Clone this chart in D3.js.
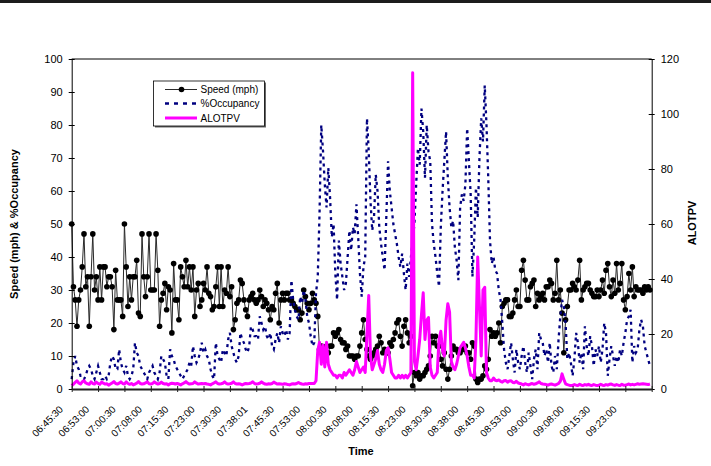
<!DOCTYPE html>
<html><head><meta charset="utf-8">
<script src="https://cdn.jsdelivr.net/npm/d3@7"></script>
<style>
body{margin:0;background:#fff}
svg{display:block}
text{font-family:"Liberation Sans",Arial,Helvetica,sans-serif;fill:#000}
</style>
</head><body>
<svg id="chart" width="711" height="466"></svg>
<script>
// Tick labels (every 15th 30-second sample)
const timeLabels = ["06:45:30","06:53:00","07:00:30","07:08:00","07:15:30","07:23:00","07:30:30","07:38:01","07:45:30","07:53:00","08:00:30","08:08:00","08:15:30","08:23:00","08:30:30","08:38:00","08:45:30","08:53:00","09:00:30","09:08:00","09:15:30","09:23:00"];
const leftTicks = [0,10,20,30,40,50,60,70,80,90,100];
const rightTicks = [0,20,40,60,80,100,120];
const seriesNames = ["Speed (mph)","%Occupancy","ALOTPV"];

// Speed (mph), 15 samples per row (one row per labelled interval)
const speed = [
50,31,27,19,27,30,37,47,31,34,19,34,47,30,34,
27,37,27,37,37,31,34,34,31,18,36,27,27,27,22,
50,37,25,34,27,34,34,39,23,22,47,34,28,34,47,
30,30,30,47,36,19,27,29,32,24,31,30,17,38,27,
27,21,37,34,31,39,31,37,30,37,22,30,32,25,27,
32,30,37,29,28,24,25,31,37,25,37,25,30,29,37,
28,31,18,21,26,27,33,32,27,24,22,27,28,29,27,
26,27,30,28,25,27,26,24,21,25,24,29,32,20,27,
29,27,29,29,27,27,26,25,24,24,21,23,30,28,26,
24,26,29,27,26,22,12,13,12,12,13,11,13,13,17,
16,17,18,15,14,14,12,13,10,10,10,9,10,10,13,
17,21,15,12,10,9,10,11,12,13,16,14,11,12,11,
11,14,13,15,17,20,21,16,13,19,21,17,14,16,1,
5,4,5,3,4,4,5,6,7,10,16,14,16,13,13,
9,7,11,6,3,6,10,13,12,12,11,11,12,12,13,
11,11,9,14,13,3,2,3,3,4,7,6,9,18,16,
17,16,17,20,14,25,26,27,27,22,22,23,27,30,25,
25,36,39,33,27,27,31,32,33,25,29,27,28,29,27,
31,31,33,32,27,29,39,27,30,23,11,21,25,30,30,
32,31,30,33,39,27,30,31,32,32,30,29,28,28,30,
28,30,33,29,36,38,31,28,33,29,38,30,32,38,27,
24,28,35,30,37,28,31,30,30,30,29,31,30,31,30
];

// %Occupancy
const occupancy = [
3,8,10,7,6,4,4,3,4,6,7,6,4,3,5,
7,5,3,3,4,3,4,8,10,9,6,6,12,8,6,
5,7,4,3,4,6,14,11,10,7,6,5,4,3,5,
6,7,5,4,3,5,10,9,8,4,3,12,10,9,7,
6,5,4,3,4,5,6,8,7,13,10,8,9,11,14,
11,12,10,9,6,4,3,14,10,9,8,12,11,10,15,
17,13,11,9,8,10,17,15,14,12,11,13,19,18,16,
16,15,22,20,18,19,16,15,17,13,12,15,17,14,19,
17,16,18,15,17,33,27,24,22,21,28,26,30,27,22,
20,16,13,14,29,34,53,80,72,62,55,67,58,46,50,
35,27,45,38,34,30,32,40,48,42,49,47,56,46,35,
28,37,40,82,72,57,48,52,65,60,49,44,40,36,52,
69,60,55,50,47,44,40,37,41,35,30,38,34,40,45,
50,62,73,68,85,78,64,80,72,69,50,44,40,35,31,
49,60,69,78,64,55,49,51,43,39,33,55,59,57,62,
79,69,59,34,45,61,52,70,82,75,92,80,64,45,38,
40,36,35,30,27,20,12,8,6,10,14,9,5,12,8,
6,10,13,8,5,11,7,3,9,12,6,17,15,14,10,
12,8,14,7,5,10,6,15,22,27,25,20,9,11,8,
4,9,17,14,8,11,6,19,13,10,16,13,7,12,10,
13,8,12,20,17,4,9,13,10,7,10,8,12,10,14,
17,21,22,24,8,13,11,12,18,21,19,13,11,9,7
];

// ALOTPV (right axis)
const alotpv = [
1.2,1.8,2.4,3.0,2.2,1.8,2.6,3.0,2.2,1.9,1.7,2.6,2.0,1.8,2.5,
2.0,1.7,2.5,2.1,1.8,1.9,1.4,1.8,2.2,2.7,2.0,1.8,2.1,2.6,2.0,
1.8,2.6,2.0,1.7,2.0,1.5,1.8,2.1,2.7,2.0,1.8,1.9,2.2,2.6,1.9,
1.8,2.0,2.6,2.1,1.8,2.0,2.5,2.0,1.8,1.9,1.5,1.9,2.1,2.0,1.8,
2.0,1.8,1.5,1.9,2.2,2.7,2.1,1.8,1.9,2.0,2.6,2.1,1.8,1.9,2.0,
1.9,2.0,1.8,1.7,1.5,1.9,2.2,2.6,2.0,1.8,1.9,2.1,2.6,2.0,1.8,
1.9,2.1,2.6,2.0,1.8,1.9,1.8,1.5,1.8,2.0,1.9,2.0,2.2,2.6,2.0,
1.8,1.9,2.1,2.6,2.1,1.8,1.7,1.9,1.8,2.0,2.5,2.1,1.8,1.9,1.8,
1.7,1.9,1.8,1.6,1.5,1.8,1.9,1.8,2.0,2.4,2.0,1.8,1.7,1.9,1.8,
2,2,2,2,3,14,17,9,16,8,17,9,7,6,5,
5,4,5,5,4,6,5,6,7,6,5,7,10,8,6,
7,8,6,20,34,12,7,9,11,14,9,7,6,9,14,
15,11,6,5,4,4,5,4,5,4,5,4,5,6,115,
10,7,12,18,27,35,18,25,26,8,5,4,5,6,18,
21,14,12,25,31,28,10,8,7,9,12,15,16,17,15,
12,8,5,5,4,18,48,30,12,36,37,6,4,3,3,
4.0,3.2,3.0,3.3,2.8,2.5,3.0,3.1,2.5,2.9,3.0,2.4,2.3,2.8,2.2,
2.0,1.8,1.5,1.9,1.7,1.5,1.8,2.0,1.7,1.9,2.2,2.6,2.0,1.8,1.7,
1.6,1.4,1.7,1.8,1.6,1.4,1.7,2.0,2.8,5.5,3.5,1.9,1.6,1.4,1.3,
1.3,1.6,1.4,1.3,1.7,1.4,1.3,1.6,1.4,1.7,1.4,1.3,1.6,1.4,1.3,
1.4,1.7,1.4,1.3,1.6,1.4,1.7,1.8,1.5,1.3,1.6,1.4,1.3,1.7,1.4,
1.4,1.6,1.8,1.5,1.7,1.5,1.7,1.9,1.7,1.8,1.9,1.8,1.7,1.6,1.8
];

const svg = d3.select("#chart");
const L = 71.7, R = 651.7, T = 59, B = 389;
const nCat = timeLabels.length * 15; // 330

const x = d3.scaleLinear().domain([0, nCat]).range([L, R]);
const yL = d3.scaleLinear().domain([0, 100]).range([B, T]);
const yR = d3.scaleLinear().domain([0, 120]).range([B, T]);

svg.append("rect").attr("x",0).attr("y",0).attr("width",711).attr("height",466).attr("fill","#fff");
// dark rule at the top of the page
svg.append("rect").attr("x",0).attr("y",0).attr("width",711).attr("height",3).attr("fill","#1c1c1c");

// series
const g = svg.append("g");
g.append("path").datum(speed)
  .attr("fill","none").attr("stroke","#2a2a2a").attr("stroke-width",1)
  .attr("d", d3.line().x((d,i)=>x(i)).y(d=>yL(d)));
g.selectAll("circle.sp").data(speed).enter().append("circle")
  .attr("class","sp").attr("cx",(d,i)=>x(i)).attr("cy",d=>yL(d)).attr("r",2.8).attr("fill","#000");
g.append("path").datum(occupancy)
  .attr("fill","none").attr("stroke","#000080").attr("stroke-width",2.3)
  .attr("stroke-dasharray","3,4")
  .attr("d", d3.line().x((d,i)=>x(i)).y(d=>yL(d)));
g.append("path").datum(alotpv)
  .attr("fill","none").attr("stroke","#ff00ff").attr("stroke-width",3).attr("stroke-linejoin","round")
  .attr("d", d3.line().x((d,i)=>x(i)).y(d=>yR(d)));

// frame
svg.append("line").attr("x1",L).attr("x2",R).attr("y1",T).attr("y2",T).attr("stroke","#000").attr("stroke-width",1);

// left axis
const ax = svg.append("g").attr("transform",`translate(${L},0)`)
  .call(d3.axisLeft(yL).tickValues(leftTicks).tickSize(3).tickSizeOuter(0).tickPadding(6));
ax.select(".domain").attr("stroke","#000");
ax.selectAll(".tick line").attr("x1",3);
ax.selectAll(".tick text").attr("font-size",11).attr("font-family",null);

// right axis
const ar = svg.append("g").attr("transform",`translate(${R},0)`)
  .call(d3.axisRight(yR).tickValues(rightTicks).tickSize(3).tickSizeOuter(0).tickPadding(6));
ar.select(".domain").attr("stroke","#000");
ar.selectAll(".tick line").attr("x1",-3);
ar.selectAll(".tick text").attr("font-size",11).attr("font-family",null);

// bottom axis
const xb = svg.append("g").attr("transform",`translate(0,${B})`)
  .call(d3.axisBottom(x).tickValues(d3.range(0, nCat+1, 15)).tickSize(3).tickSizeOuter(0)
    .tickFormat(v => timeLabels[v/15] || ""));
xb.select(".domain").attr("stroke","#222").attr("stroke-width",2);
xb.selectAll(".tick line").attr("y1",-3).attr("stroke","#222");
xb.selectAll(".tick text")
  .attr("font-size",10).attr("font-family",null)
  .attr("x",0).attr("y",0).attr("dy",0)
  .attr("text-anchor","end")
  .attr("transform","translate(-8.5,21) rotate(-45)");

// axis titles
svg.append("text").attr("x",361).attr("y",455).attr("text-anchor","middle")
  .attr("font-size",11).attr("font-weight","bold").text("Time");
svg.append("text").attr("transform","translate(18,224) rotate(-90)").attr("text-anchor","middle")
  .attr("font-size",11).attr("font-weight","bold").text("Speed (mph) & %Occupancy");
svg.append("text").attr("transform","translate(696,223) rotate(-90)").attr("text-anchor","middle")
  .attr("font-size",11).attr("font-weight","bold").text("ALOTPV");

// legend
const lg = svg.append("g");
lg.append("rect").attr("x",155).attr("y",82.5).attr("width",111).attr("height",45).attr("fill","#666");
lg.append("rect").attr("x",153.5).attr("y",81).attr("width",111).attr("height",45)
  .attr("fill","#fff").attr("stroke","#000").attr("stroke-width",0.8);
const rows = [89.5, 103.5, 118];
lg.append("line").attr("x1",165).attr("x2",197).attr("y1",rows[0]).attr("y2",rows[0]).attr("stroke","#2a2a2a").attr("stroke-width",1);
lg.append("circle").attr("cx",181.5).attr("cy",rows[0]).attr("r",2.8).attr("fill","#000");
lg.append("line").attr("x1",165).attr("x2",197).attr("y1",rows[1]).attr("y2",rows[1]).attr("stroke","#000080").attr("stroke-width",2.3).attr("stroke-dasharray","4,5");
lg.append("line").attr("x1",165).attr("x2",197).attr("y1",rows[2]).attr("y2",rows[2]).attr("stroke","#ff00ff").attr("stroke-width",3);
seriesNames.forEach((n,i)=>{
  lg.append("text").attr("x",200.5).attr("y",rows[i]).attr("dy","0.35em").attr("font-size",10).text(n);
});
</script>
</body></html>
